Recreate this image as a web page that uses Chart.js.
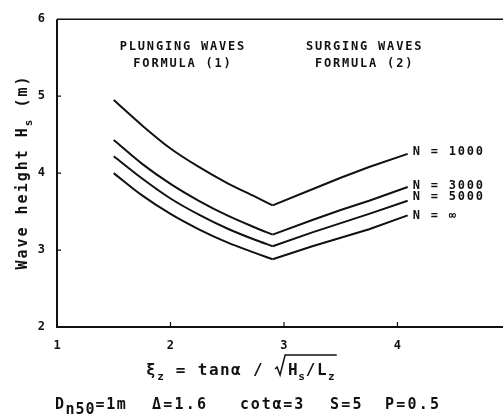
<!DOCTYPE html>
<html>
<head>
<meta charset="utf-8">
<script src="https://cdn.jsdelivr.net/npm/chart.js@4/dist/chart.umd.min.js"></script>
<style>
  html, body { margin: 0; padding: 0; background: #fff; }
  canvas { display: block; }
</style>
</head>
<body>
<canvas id="chart" width="503" height="419"></canvas>
<script>
// surf similarity parameter xi_z, and wave height Hs (m) for each storm duration N
const xi = [1.5, 1.75, 2.0, 2.25, 2.5, 2.75, 2.9, 3.25, 3.5, 3.75, 4.09];
const transition = 6; // index where plunging branch meets surging branch
const hs1000 = [4.95, 4.62, 4.32, 4.08, 3.87, 3.69, 3.58, 3.79, 3.94, 4.08, 4.25];
const hs3000 = [4.43, 4.12, 3.86, 3.64, 3.45, 3.29, 3.20, 3.39, 3.52, 3.64, 3.82];
const hs5000 = [4.22, 3.93, 3.67, 3.46, 3.28, 3.13, 3.05, 3.23, 3.35, 3.47, 3.64];
const hsInf  = [4.00, 3.71, 3.47, 3.27, 3.10, 2.96, 2.88, 3.05, 3.16, 3.27, 3.45];
const seriesLabels = ['N = 1000', 'N = 3000', 'N = 5000', 'N = \u221E'];
const allSeries = [hs1000, hs3000, hs5000, hsInf];
const xTicks = [1, 2, 3, 4];
const yTicks = [2, 3, 4, 5, 6];

const MONO = '"DejaVu Sans Mono", "Liberation Mono", monospace';
const INK = '#111';

// every curve is drawn as two pieces so the corner at the transition stays sharp
const datasets = [];
allSeries.forEach((hs, i) => {
  const pts = xi.map((x, k) => ({ x: x, y: hs[k] }));
  datasets.push({
    label: seriesLabels[i] + ' plunging',
    data: pts.slice(0, transition + 1),
    cubicInterpolationMode: 'monotone',
    borderColor: INK, borderWidth: 2, pointRadius: 0, fill: false
  });
  datasets.push({
    label: seriesLabels[i] + ' surging',
    data: pts.slice(transition),
    tension: 0,
    borderColor: INK, borderWidth: 2, pointRadius: 0, fill: false
  });
});

function spacedText(ctx, text, x, y, font, spacing, align) {
  ctx.font = font;
  ctx.letterSpacing = spacing + 'px';
  let w = ctx.measureText(text).width;
  let sx = x;
  if (align === 'center') sx = x - w / 2;
  ctx.textAlign = 'left';
  ctx.fillText(text, sx, y);
  ctx.letterSpacing = '0px';
  return sx + w;
}

const decorations = {
  id: 'decorations',
  afterDraw(chart) {
    const ctx = chart.ctx;
    const a = chart.chartArea;
    const xs = chart.scales.x, ys = chart.scales.y;
    ctx.save();
    ctx.strokeStyle = INK;
    ctx.fillStyle = INK;

    // frame: heavy left/bottom axes, lighter top line
    ctx.lineWidth = 2;
    ctx.beginPath();
    ctx.moveTo(a.left, a.top);
    ctx.lineTo(a.left, a.bottom);
    ctx.lineTo(a.right, a.bottom);
    ctx.stroke();
    ctx.lineWidth = 1.5;
    ctx.beginPath();
    ctx.moveTo(a.left, a.top);
    ctx.lineTo(a.right, a.top);
    ctx.stroke();

    // small inward tick marks
    ctx.lineWidth = 1.2;
    ctx.beginPath();
    yTicks.slice(1, -1).forEach(v => {
      const py = ys.getPixelForValue(v);
      ctx.moveTo(a.left, py); ctx.lineTo(a.left + 4, py);
    });
    xTicks.slice(1).forEach(v => {
      const px = xs.getPixelForValue(v);
      ctx.moveTo(px, a.bottom); ctx.lineTo(px, a.bottom - 5);
    });
    ctx.stroke();

    ctx.textBaseline = 'middle';
    const small = 'bold 12px ' + MONO;

    // regime headings
    const px1 = xs.getPixelForValue(2.11), px2 = xs.getPixelForValue(3.71);
    const h1 = ys.getPixelForValue(5.645), h2 = ys.getPixelForValue(5.415);
    spacedText(ctx, 'PLUNGING WAVES', px1, h1, small, 1.8, 'center');
    spacedText(ctx, 'FORMULA (1)', px1, h2, small, 1.8, 'center');
    spacedText(ctx, 'SURGING WAVES', px2, h1, small, 1.8, 'center');
    spacedText(ctx, 'FORMULA (2)', px2, h2, small, 1.8, 'center');

    // curve labels at the right-hand ends
    const labelY = [4.28, 3.84, 3.69, 3.45];
    const lx = xs.getPixelForValue(xi[xi.length - 1]) + 5;
    seriesLabels.forEach((t, i) => {
      spacedText(ctx, t, lx, ys.getPixelForValue(labelY[i]), small, 1.8, 'left');
    });

    // x-axis title: xi_z = tan(alpha) / sqrt(Hs/Lz)
    const main = 'bold 16px ' + MONO, sub = 'bold 11px ' + MONO;
    ctx.textBaseline = 'alphabetic';
    const tb = 375;
    let cx = 146;
    cx = spacedText(ctx, '\u03BE', cx, tb, main, 1.5, 'left');
    cx = spacedText(ctx, 'z', cx, tb + 5, sub, 1, 'left');
    cx = spacedText(ctx, ' = tan\u03B1 / ', cx, tb, main, 1.4, 'left');
    // radical sign drawn as a stroke joined to its overbar
    const r = cx;
    cx = r + 13;
    cx = spacedText(ctx, 'H', cx, tb, main, 0.5, 'left');
    cx = spacedText(ctx, 's', cx, tb + 5, sub, 1, 'left');
    cx = spacedText(ctx, '/L', cx, tb, main, 1.5, 'left');
    cx = spacedText(ctx, 'z', cx, tb + 5, sub, 1, 'left');
    ctx.lineWidth = 1.5;
    ctx.beginPath();
    ctx.moveTo(r, tb - 6);
    ctx.lineTo(r + 2, tb - 8);
    ctx.lineTo(r + 5, tb);
    ctx.lineTo(r + 10, tb - 20);
    ctx.lineTo(cx + 1, tb - 20);
    ctx.stroke();

    // test conditions
    const bb = 409;
    const cond = 'bold 15px ' + MONO;
    cx = 55;
    cx = spacedText(ctx, 'D', cx, bb, cond, 1.5, 'left');
    cx = spacedText(ctx, 'n50', cx, bb + 5, cond, 1, 'left');
    spacedText(ctx, '=1m', cx, bb, cond, 1.5, 'left');
    spacedText(ctx, '\u0394=1.6', 152, bb, cond, 2.2, 'left');
    spacedText(ctx, 'cot\u03B1=3', 240, bb, cond, 1.8, 'left');
    spacedText(ctx, 'S=5', 330, bb, cond, 2.2, 'left');
    spacedText(ctx, 'P=0.5', 385, bb, cond, 2.2, 'left');

    // y-axis title, rotated
    ctx.translate(22, 172);
    ctx.rotate(-Math.PI / 2);
    const ylab = 'bold 15px ' + MONO;
    ctx.font = ylab; ctx.letterSpacing = '2px';
    let total = ctx.measureText('Wave height H (m)').width;
    ctx.font = sub; ctx.letterSpacing = '1px';
    total += ctx.measureText('s').width;
    let tx = -total / 2;
    tx = spacedText(ctx, 'Wave height H', tx, 5, ylab, 2, 'left');
    tx = spacedText(ctx, 's', tx, 10, sub, 1, 'left');
    spacedText(ctx, ' (m)', tx, 5, ylab, 2, 'left');

    ctx.restore();
  }
};

new Chart(document.getElementById('chart'), {
  type: 'line',
  data: { datasets: datasets },
  options: {
    responsive: false,
    animation: false,
    devicePixelRatio: 1,
    layout: { padding: { top: 14, left: 0, right: 0, bottom: 0 } },
    plugins: { legend: { display: false }, tooltip: { enabled: false } },
    scales: {
      x: {
        type: 'linear',
        min: 1,
        max: 4.93,
        afterFit: s => { s.height = 92; },
        afterBuildTicks: s => { s.ticks = xTicks.map(v => ({ value: v })); },
        grid: { display: false, drawTicks: false },
        border: { display: false },
        ticks: { padding: 12, color: INK, font: { family: MONO, size: 12, weight: 'bold' } }
      },
      y: {
        type: 'linear',
        min: 2,
        max: 6,
        afterFit: s => { s.width = 57; },
        afterBuildTicks: s => { s.ticks = yTicks.map(v => ({ value: v })); },
        grid: { display: false, drawTicks: false },
        border: { display: false },
        ticks: { padding: 12, color: INK, font: { family: MONO, size: 12, weight: 'bold' } }
      }
    }
  },
  plugins: [decorations]
});
</script>
</body>
</html>
